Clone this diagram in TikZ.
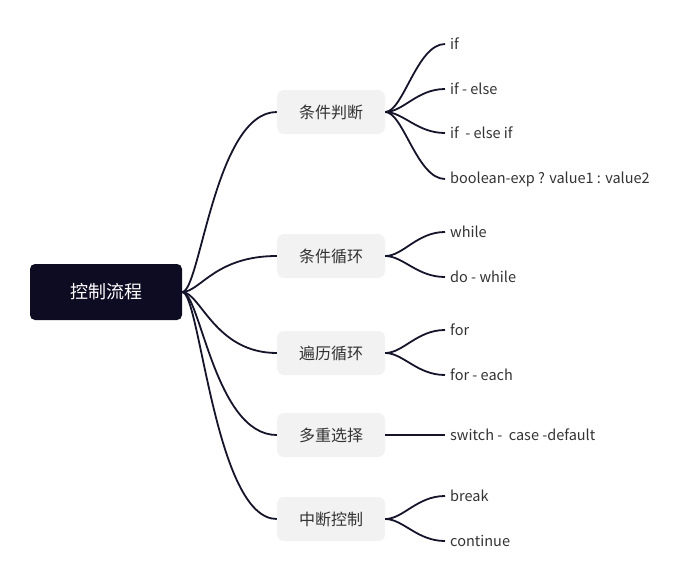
\documentclass[tikz,border=0pt]{standalone}
\usepackage{fontspec}
\setmainfont{Noto Sans CJK SC}
\definecolor{rootc}{HTML}{0E0C22}
\definecolor{linec}{HTML}{15142B}
\definecolor{boxc}{HTML}{F2F2F2}
\definecolor{txtc}{HTML}{333333}
\begin{document}
\begin{tikzpicture}[x=1pt,y=-1pt,
  rootbox/.style={fill=rootc,rounded corners=5pt,minimum width=152pt,minimum height=56pt,text=white,font=\fontsize{18}{20}\selectfont,inner sep=0pt},
  branchbox/.style={fill=boxc,rounded corners=7pt,minimum width=108pt,minimum height=44pt,text=txtc,font=\fontsize{16}{18}\selectfont,inner sep=0pt},
  leaf/.style={anchor=west,inner xsep=5pt,inner ysep=0pt,text=txtc,font=\fontsize{14.5}{16}\selectfont},
  conn/.style={draw=linec,line width=1.8pt},
  mainconn/.style={conn}
]
\useasboundingbox (0,0) rectangle (687,586);
\node[rootbox] (r) at (106,292) {控制流程};
\node[branchbox] (b1) at (331,112) {条件判断};
\node[branchbox] (b2) at (331,256) {条件循环};
\node[branchbox] (b3) at (331,353) {遍历循环};
\node[branchbox] (b4) at (331,435) {多重选择};
\node[branchbox] (b5) at (331,519) {中断控制};

\node[leaf] (l1) at (445,44) {if};
\node[leaf] (l2) at (445,89) {if - else};
\node[leaf] (l3) at (445,133) {if \ - else if};
\node[leaf] (l4) at (445,179) {boolean-exp ? value1 : value2};
\node[leaf] (l5) at (445,232) {while};
\node[leaf] (l6) at (445,277) {do - while};
\node[leaf] (l7) at (445,330) {for};
\node[leaf] (l8) at (445,375) {for - each};
\node[leaf] (l9) at (445,435) {switch - \ case -default};
\node[leaf] (l10) at (445,496) {break};
\node[leaf] (l11) at (445,541) {continue};

\foreach \b in {b1,b2,b3,b4,b5}
  \draw[mainconn] (r.east) .. controls +(18,0) and +(-62,0) .. (\b.west);

\foreach \b/\l in {b1/l1,b1/l2,b1/l3,b1/l4,b2/l5,b2/l6,b3/l7,b3/l8,b5/l10,b5/l11}
  \draw[conn] (\b.east) .. controls +(18,0) and +(-28,0) .. (\l.west);
\draw[conn] (b4.east) -- (l9.west);
\end{tikzpicture}
\end{document}
